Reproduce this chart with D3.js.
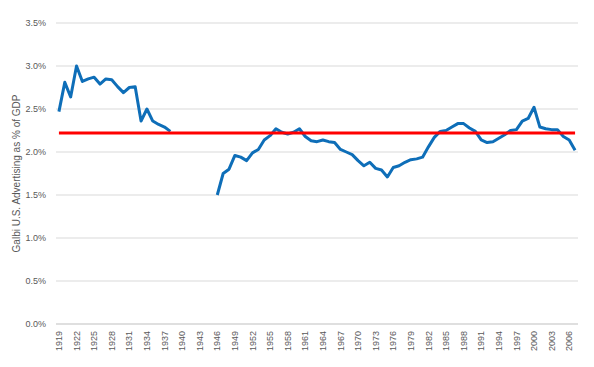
<!DOCTYPE html>
<html>
<head>
<meta charset="utf-8">
<script src="https://cdn.jsdelivr.net/npm/d3@7"></script>
<style>
  body { margin: 0; background: #fff; }
  text { font-family: "Liberation Sans", Arial, sans-serif; fill: #595959; }
</style>
</head>
<body>
<script>
// categories: one per year, 1919..2007
const years = d3.range(1919, 2008)

// ad spend as % of GDP (null = no data)
const adShare = [
  2.47, 2.81, 2.64, 3.00, 2.82, 2.85, 2.87, 2.79, 2.85, 2.84,
  2.76, 2.69, 2.75, 2.76, 2.36, 2.50, 2.36, 2.32, 2.29, 2.24,
  null, null, null, null, null, null, null,
  1.50, 1.75, 1.80, 1.96, 1.94, 1.90, 1.99, 2.03, 2.14, 2.19,
  2.27, 2.23, 2.21, 2.23, 2.27, 2.18, 2.13, 2.12, 2.14, 2.12,
  2.11, 2.03, 2.00, 1.97, 1.90, 1.84, 1.88, 1.81, 1.79, 1.71,
  1.82, 1.84, 1.88, 1.91, 1.92, 1.94, 2.06, 2.17, 2.24, 2.25,
  2.29, 2.33, 2.33, 2.28, 2.24, 2.14, 2.11, 2.12, 2.16, 2.20,
  2.25, 2.26, 2.36, 2.39, 2.52, 2.29, 2.27, 2.26, 2.26, 2.18,
  2.14, 2.02
]

// long run average
const avgShare = 2.22

const yTicks = [0, 0.5, 1.0, 1.5, 2.0, 2.5, 3.0, 3.5]
const xLabelYears = years.filter(y => (y - 1919) % 3 == 0)

width = 594
height = 367
margin = {top: 23, right: 16, bottom: 43, left: 56}

svg = d3.select("body")
    .append("svg")
    .attr("width", width)
    .attr("height", height)

let x = d3.scaleBand()
    .domain(years)
    .range([margin.left, width - margin.right])
    .padding(0)
let cx = d => x(d) + x.bandwidth() / 2

let y = d3.scaleLinear()
    .domain([0, 3.5])
    .range([height - margin.bottom, margin.top])

// gridlines + y labels
svg.selectAll("line.grid")
    .data(yTicks)
    .enter()
    .append("line")
    .attr("class", "grid")
    .attr("x1", margin.left)
    .attr("x2", width - margin.right)
    .attr("y1", d => y(d))
    .attr("y2", d => y(d))
    .attr("stroke", d => d == 0 ? "#bfbfbf" : "#d9d9d9")
    .attr("stroke-width", 1)

svg.selectAll("text.ytick")
    .data(yTicks)
    .enter()
    .append("text")
    .attr("class", "ytick")
    .attr("x", margin.left - 10)
    .attr("y", d => y(d))
    .attr("dy", "0.35em")
    .attr("text-anchor", "end")
    .attr("font-size", "9px")
    .text(d => d.toFixed(1) + "%")

// x labels, rotated
svg.selectAll("text.xtick")
    .data(xLabelYears)
    .enter()
    .append("text")
    .attr("class", "xtick")
    .attr("transform", d => "translate(" + cx(d) + "," + (height - margin.bottom + 7) + ") rotate(-90)")
    .attr("dy", "0.35em")
    .attr("text-anchor", "end")
    .attr("font-size", "9px")
    .text(d => d)

// axis title
svg.append("text")
    .attr("transform", "translate(16," + (y(1.75)) + ") rotate(-90)")
    .attr("dy", "0.35em")
    .attr("text-anchor", "middle")
    .attr("font-size", "10px")
    .text("Galbi U.S. Advertising as % of GDP")

// main series
let line = d3.line()
    .defined(d => d.v != null)
    .x(d => cx(d.year))
    .y(d => y(d.v))

svg.append("path")
    .datum(years.map((yr, i) => ({year: yr, v: adShare[i]})))
    .attr("d", line)
    .attr("fill", "none")
    .attr("stroke", "#0e6eb8")
    .attr("stroke-width", 3)
    .attr("stroke-linejoin", "round")

// average line
svg.append("path")
    .datum(years.map(yr => ({year: yr, v: avgShare})))
    .attr("d", line)
    .attr("fill", "none")
    .attr("stroke", "#ff0000")
    .attr("stroke-width", 3)
</script>
</body>
</html>
